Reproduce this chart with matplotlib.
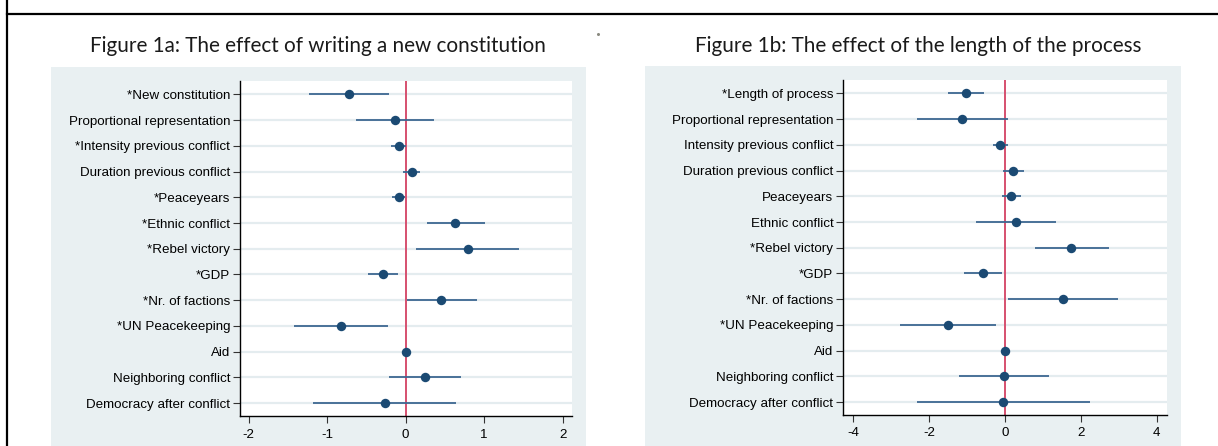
import matplotlib
matplotlib.use("Agg")
import matplotlib.pyplot as plt
from matplotlib.patches import Rectangle
from matplotlib.lines import Line2D

W, H = 1218, 446

# ---------------- data ----------------
labels_a = ["*New constitution", "Proportional representation", "*Intensity previous conflict",
            "Duration previous conflict", "*Peaceyears", "*Ethnic conflict", "*Rebel victory",
            "*GDP", "*Nr. of factions", "*UN Peacekeeping", "Aid", "Neighboring conflict",
            "Democracy after conflict"]
coef_a = [-0.72, -0.14, -0.09, 0.08, -0.09, 0.63, 0.79, -0.29, 0.455, -0.825, 0.0, 0.245, -0.265]
low_a = [-1.23, -0.63, -0.18, -0.03, -0.17, 0.27, 0.13, -0.48, 0.02, -1.425, -0.01, -0.21, -1.175]
high_a = [-0.21, 0.36, 0.0, 0.18, -0.01, 1.01, 1.45, -0.10, 0.905, -0.22, 0.01, 0.70, 0.645]

labels_b = ["*Length of process", "Proportional representation", "Intensity previous conflict",
            "Duration previous conflict", "Peaceyears", "Ethnic conflict", "*Rebel victory",
            "*GDP", "*Nr. of factions", "*UN Peacekeeping", "Aid", "Neighboring conflict",
            "Democracy after conflict"]
coef_b = [-1.04, -1.13, -0.13, 0.22, 0.165, 0.29, 1.75, -0.58, 1.52, -1.50, 0.0, -0.02, -0.06]
low_b = [-1.51, -2.32, -0.32, -0.04, -0.09, -0.76, 0.78, -1.08, 0.07, -2.76, -0.02, -1.21, -2.33]
high_b = [-0.55, 0.08, 0.09, 0.50, 0.42, 1.35, 2.73, -0.09, 2.99, -0.23, 0.02, 1.17, 2.23]

ticks_a = [-2, -1, 0, 1, 2]
ticks_b = [-4, -2, 0, 2, 4]

title_a = "Figure 1a: The effect of writing a new constitution"
title_b = "Figure 1b: The effect of the length of the process"

# ---------------- style ----------------
BG = "#e9f0f2"
GRID = "#e4ecef"
PT = "#1b4a73"
CI = "#3d6891"
RED = "#d6506f"
LBL_FONT = ["Liberation Sans", "DejaVu Sans"]
TTL_FONT = ["Lato", "DejaVu Sans"]

fig = plt.figure(figsize=(W / 100, H / 100), dpi=100)


def px_rect(x0, y0, x1, y1):
    return [x0 / W, 1 - y1 / H, (x1 - x0) / W, (y1 - y0) / H]


# gray panels
for (x0, y0, x1, y1) in [(51, 67, 586, 446), (645, 66, 1181, 446)]:
    r = px_rect(x0, y0, x1, y1)
    fig.patches.append(Rectangle((r[0], r[1]), r[2], r[3], transform=fig.transFigure,
                                 facecolor=BG, edgecolor="none", zorder=-5))

# frame lines
fig.add_artist(Line2D([7 / W, 1], [1 - 14 / H, 1 - 14 / H], color="black", lw=1.6,
                      transform=fig.transFigure))
fig.add_artist(Line2D([7 / W, 7 / W], [0, 1], color="black", lw=1.6, transform=fig.transFigure))
# small dot
fig.add_artist(Line2D([597.5 / W], [1 - 33.5 / H], marker="o", ms=2.2, color="#8a8a80",
                      mec="none", transform=fig.transFigure))


def panel(rect, labels, coef, low, high, ticks, xlim, title, tcx):
    ax = fig.add_axes(px_rect(*rect))
    n = len(labels)
    ys = list(range(n))
    for y in ys:
        ax.axhline(y, color=GRID, lw=1.6, zorder=0)
    ax.axvline(0, color=RED, lw=1.4, zorder=1)
    ax.hlines(ys, low, high, color=CI, lw=1.3, zorder=2)
    ax.plot(coef, ys, "o", color=PT, ms=6.8, zorder=3, mec="none")
    ax.set_ylim(n - 0.5, -0.52)
    ax.set_xlim(*xlim)
    ax.set_yticks(ys)
    ax.set_yticklabels(labels, fontfamily=LBL_FONT, fontsize=9.6)
    ax.set_xticks(ticks)
    ax.set_xticklabels([str(t) for t in ticks], fontfamily=LBL_FONT, fontsize=9.6)
    ax.tick_params(axis="y", length=5, width=0.8, pad=2, color="#333333")
    ax.tick_params(axis="x", length=5, width=0.8, pad=4, color="#333333")
    for s in ["top", "right"]:
        ax.spines[s].set_visible(False)
    for s in ["left", "bottom"]:
        ax.spines[s].set_linewidth(1.0)
    fig.text(tcx / W, 1 - 46.5 / H, title, ha="center", va="center",
             fontfamily=TTL_FONT, fontsize=14.9, color="#1a1a1a")
    return ax


panel((240, 81, 572, 416), labels_a, coef_a, low_a, high_a, ticks_a, (-2.11, 2.12), title_a, 318)
panel((843, 80, 1167, 415), labels_b, coef_b, low_b, high_b, ticks_b, (-4.27, 4.27), title_b, 918)

fig.savefig("out.png", dpi=100)
